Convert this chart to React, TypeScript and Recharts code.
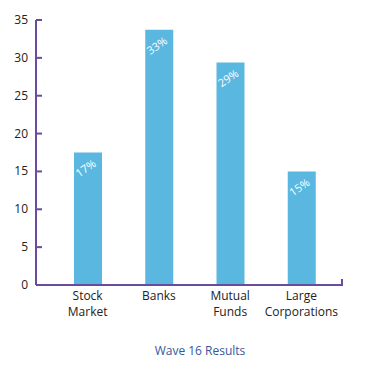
import { Bar, BarChart, LabelList, XAxis, YAxis, usePlotArea } from "recharts";

const categories = ["Stock Market", "Banks", "Mutual Funds", "Large Corporations"];
const values = [17.5, 33.7, 29.4, 15.0];
const pctLabels = ["17%", "33%", "29%", "15%"];
const yTicks = [0, 5, 10, 15, 20, 25, 30, 35];

const data = categories.map((name, i) => ({ name, value: values[i], pct: pctLabels[i] }));

const BAR = "#5ab8e0";
const AXIS = "#6a4c9e";
const FONT = "'Open Sans', sans-serif";

const splitLabel: Record<string, string[]> = {
  "Stock Market": ["Stock", "Market"],
  Banks: ["Banks"],
  "Mutual Funds": ["Mutual", "Funds"],
  "Large Corporations": ["Large", "Corporations"],
};

const YTick = (props: any) => {
  const { x, y, payload } = props;
  return (
    <g>
      <line x1={x} x2={x + 6} y1={y} y2={y} stroke={AXIS} strokeWidth={2} />
      <text x={x - 8} y={y} dy={4} textAnchor="end" fontSize={12} fill="#222" fontFamily={FONT}>
        {payload.value}
      </text>
    </g>
  );
};

const XTick = (props: any) => {
  const { x, y, payload } = props;
  const lines = splitLabel[payload.value] || [payload.value];
  return (
    <text x={x} y={y} textAnchor="middle" fontSize={12} fill="#222" fontFamily={FONT}>
      {lines.map((l, i) => (
        <tspan key={i} x={x} dy={i === 0 ? 15 : 16}>
          {l}
        </tspan>
      ))}
    </text>
  );
};

const PctLabel = (props: any) => {
  const { x, y, width, value } = props;
  const cx = x + width / 2;
  const cy = y + 19;
  return (
    <text
      x={cx}
      y={cy}
      textAnchor="middle"
      fontSize={11}
      fill="#fff"
      fontFamily={FONT}
      transform={`rotate(-35 ${cx} ${cy})`}
    >
      {value}
    </text>
  );
};

const AxisEnd = () => {
  const area = usePlotArea();
  if (!area) return null;
  const xe = area.x + area.width;
  const yb = area.y + area.height;
  return <line x1={xe} x2={xe} y1={yb + 1} y2={yb - 6} stroke={AXIS} strokeWidth={2} />;
};

export default function App() {
  return (
    <div style={{ position: "absolute", left: 0, top: 0, width: 380, height: 367, background: "#fff" }}>
      <BarChart width={380} height={367} data={data} margin={{ top: 20, right: 38, bottom: 32, left: 0 }}>
        <YAxis
          width={36}
          domain={[0, 35]}
          ticks={yTicks}
          interval={0}
          tickSize={0}
          tickMargin={0}
          tickLine={false}
          axisLine={{ stroke: AXIS, strokeWidth: 2 }}
          tick={<YTick />}
        />
        <XAxis
          dataKey="name"
          height={50}
          interval={0}
          tickSize={0}
          tickMargin={0}
          tickLine={false}
          padding={{ left: 16, right: 5 }}
          axisLine={{ stroke: AXIS, strokeWidth: 2 }}
          tick={<XTick />}
        />
        <Bar dataKey="value" fill={BAR} barSize={28} isAnimationActive={false}>
          <LabelList dataKey="pct" content={<PctLabel />} />
        </Bar>
        <AxisEnd />
      </BarChart>
      <div
        style={{
          position: "absolute",
          left: 0,
          width: 400,
          top: 342,
          textAlign: "center",
          fontFamily: FONT,
          fontSize: 12,
          color: "#34589e",
        }}
      >
        Wave 16 Results
      </div>
    </div>
  );
}
